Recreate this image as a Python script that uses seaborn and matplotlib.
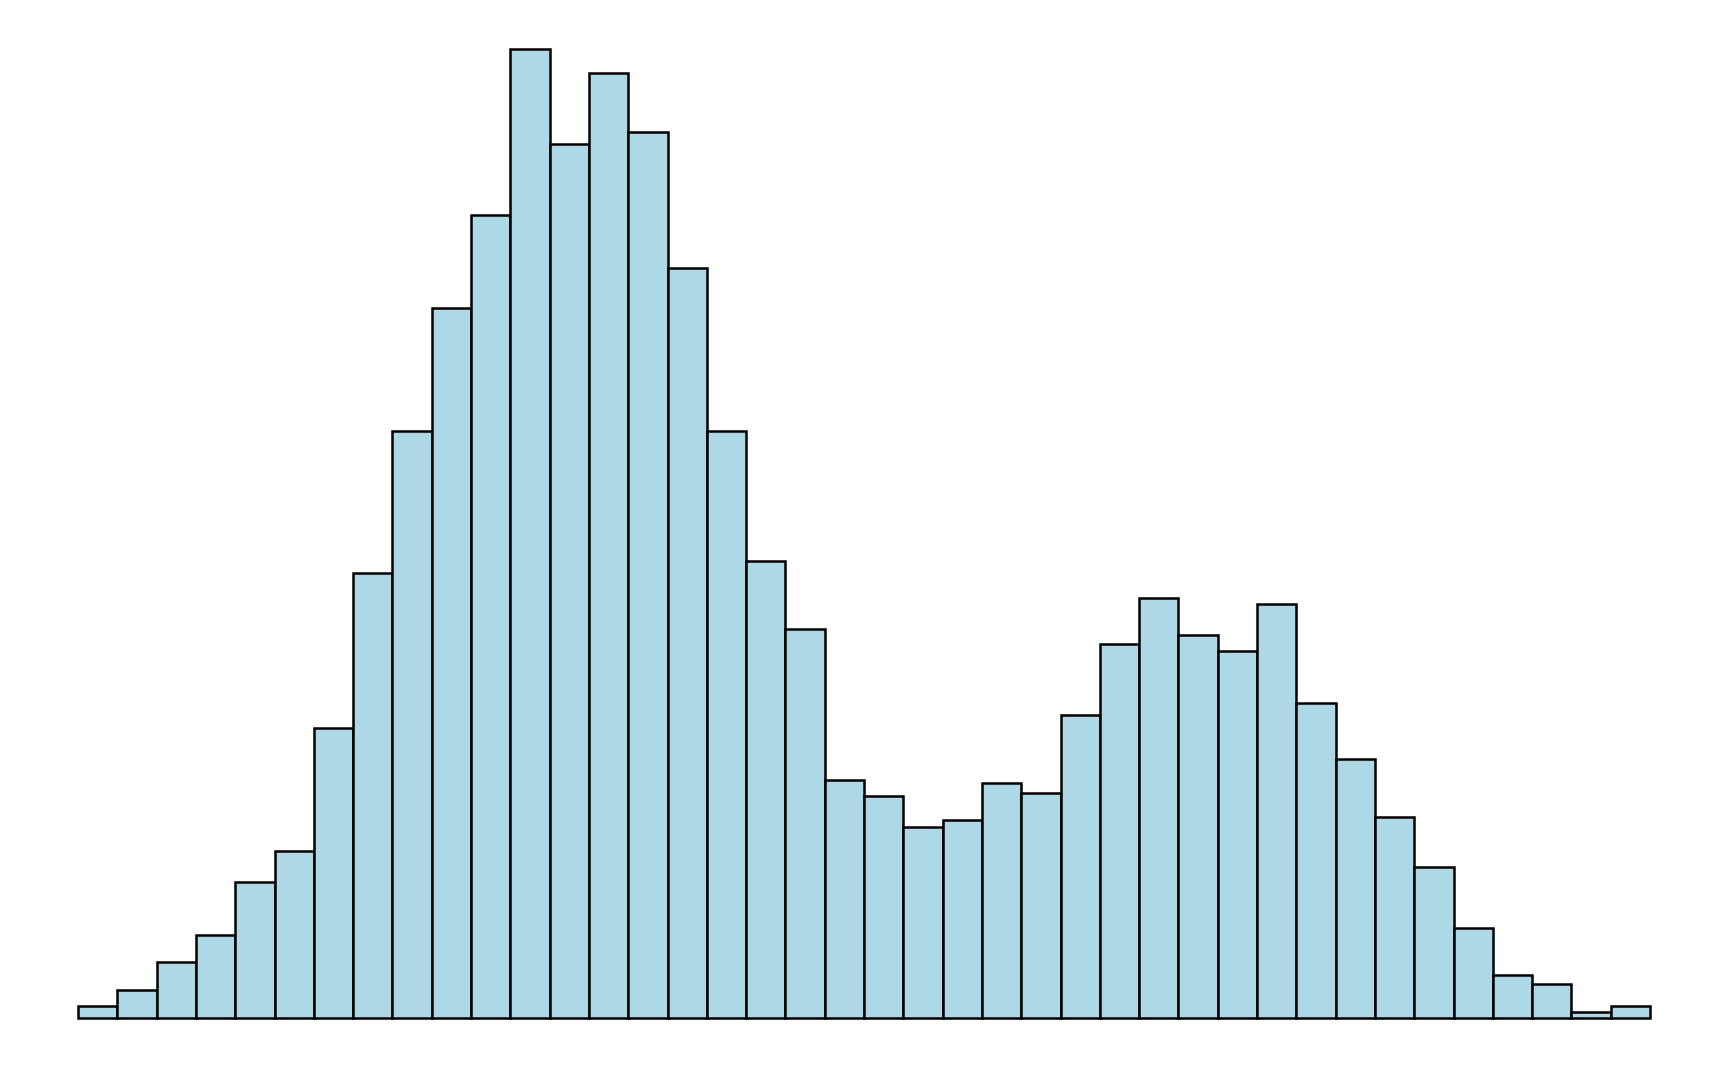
import pandas as pd
import matplotlib
matplotlib.use("Agg")
import matplotlib.pyplot as plt
import seaborn as sns

# Bin counts (40 equal-width bins)
counts = [2, 4.5, 9, 13.5, 22, 27, 47, 72, 95, 115,
          130, 157, 141.5, 153, 143.5, 121.5, 95, 74, 63, 38.5,
          36, 31, 32, 38, 36.5, 49, 60.5, 68, 62, 59.5,
          67, 51, 42, 32.5, 24.5, 14.5, 7, 5.5, 1, 2]
bin_edges = list(range(len(counts) + 1))

df = pd.DataFrame({"value": [e + 0.5 for e in bin_edges[:-1]], "count": counts})

sns.set_style("white")

fig = plt.figure(figsize=(17.28, 10.67), dpi=100)
ax = fig.add_axes([78 / 1728, 49 / 1067, 1572 / 1728, 969.5 / 1067])

sns.histplot(data=df, x="value", weights="count", bins=bin_edges, color="lightblue",
             edgecolor="black", linewidth=1.8, alpha=1, ax=ax)
for p in ax.patches:
    p.set_clip_on(False)

ax.set_xlim(bin_edges[0], bin_edges[-1])
ax.set_ylim(0, max(counts))
ax.set_axis_off()

fig.savefig("out.png", dpi=100)
plt.close(fig)
